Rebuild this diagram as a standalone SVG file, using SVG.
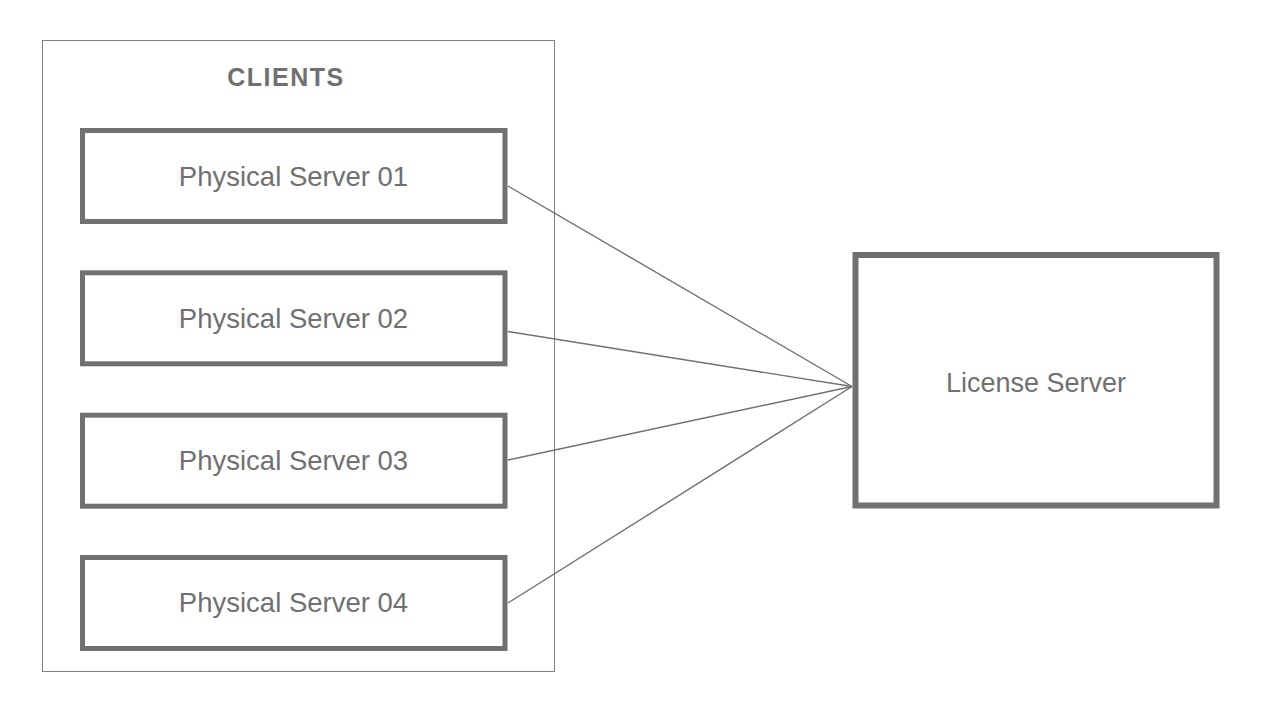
<svg xmlns="http://www.w3.org/2000/svg" width="1284" height="720" viewBox="0 0 1284 720">
  <style>
    .container { fill: #ffffff; stroke: #808080; stroke-width: 1; }
    .node { fill: #ffffff; stroke: #707070; stroke-width: 5; }
    .big { fill: #ffffff; stroke: #707070; stroke-width: 6; }
    .label { font-family: "Liberation Sans", Arial, sans-serif; font-size: 27.5px; fill: #707070; text-anchor: middle; }
    .title { font-family: "Liberation Sans", Arial, sans-serif; font-size: 25px; font-weight: bold; fill: #707070; text-anchor: middle; letter-spacing: 1.5px; }
    .conn { stroke: #707070; stroke-width: 1.4; fill: none; }
  </style>
  <rect width="1284" height="720" fill="#ffffff"/>
  <g id="clients">
    <rect class="container" x="42.5" y="40.5" width="512" height="631"/>
    <text class="title" x="286" y="86">CLIENTS</text>
  </g>
  <g id="connectors">
    <line class="conn" x1="508" y1="186" x2="852" y2="386.5"/>
    <line class="conn" x1="508" y1="331.5" x2="852" y2="386.5"/>
    <line class="conn" x1="508" y1="460" x2="852" y2="386.5"/>
    <line class="conn" x1="508" y1="603" x2="852" y2="386.5"/>
  </g>
  <g id="server01">
    <rect class="node" x="82.5" y="130.5" width="422.5" height="91"/>
    <text class="label" x="293.5" y="186">Physical Server 01</text>
  </g>
  <g id="server02">
    <rect class="node" x="82.5" y="272.8" width="422.5" height="91"/>
    <text class="label" x="293.5" y="328">Physical Server 02</text>
  </g>
  <g id="server03">
    <rect class="node" x="82.5" y="415.2" width="422.5" height="91"/>
    <text class="label" x="293.5" y="470">Physical Server 03</text>
  </g>
  <g id="server04">
    <rect class="node" x="82.5" y="557.5" width="422.5" height="91"/>
    <text class="label" x="293.5" y="612">Physical Server 04</text>
  </g>
  <g id="license-server">
    <rect class="big" x="855.5" y="255" width="361" height="250.5"/>
    <text class="label" x="1036" y="391.5" style="font-size:27px">License Server</text>
  </g>
</svg>
